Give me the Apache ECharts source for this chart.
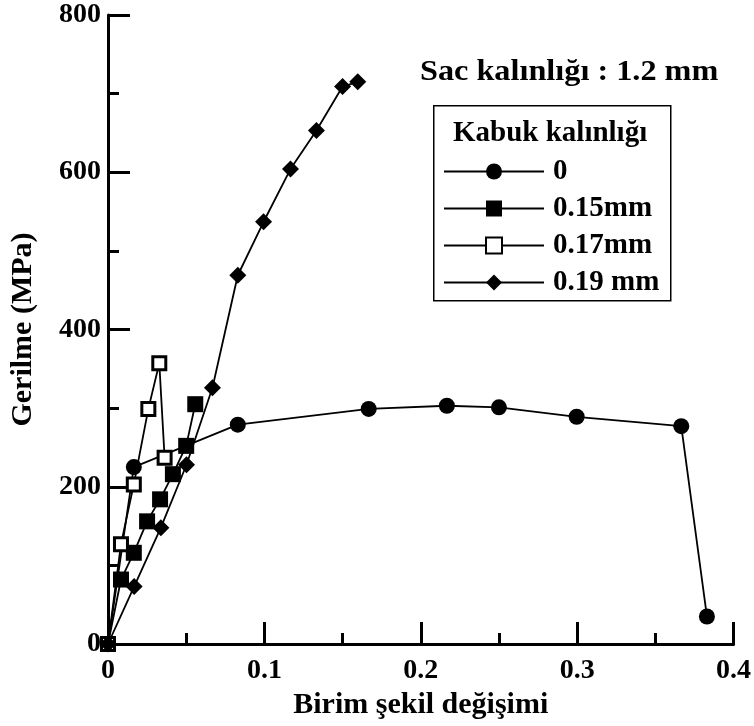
<!DOCTYPE html>
<html>
<head>
<meta charset="utf-8">
<script src="https://cdn.jsdelivr.net/npm/echarts@6/dist/echarts.min.js"></script>
<style>
  html, body { margin: 0; padding: 0; background: #fff; }
  #chart { width: 754px; height: 726px; }
</style>
</head>
<body>
<div id="chart"></div>
<script>
// Stress–strain curves for 1.2 mm sheet with different shell thicknesses
const seriesNames = ['0', '0.15mm', '0.17mm', '0.19 mm'];

const strain0 = [0, 0.0165, 0.083, 0.1667, 0.2167, 0.25, 0.2997, 0.3666, 0.383];
const stress0 = [0, 225, 279, 299, 303, 301, 289, 277, 35];

const strain015 = [0, 0.0083, 0.0165, 0.025, 0.0333, 0.0415, 0.05, 0.0558];
const stress015 = [0, 82, 116, 156, 184, 216, 252, 305];

const strain017 = [0, 0.0083, 0.0165, 0.0258, 0.0328, 0.0362];
const stress017 = [0, 127, 203, 299, 357, 237];

const strain019 = [0, 0.0167, 0.0338, 0.0502, 0.0668, 0.083, 0.0995, 0.1167, 0.1333, 0.150, 0.1597];
const stress019 = [0, 73, 148, 228, 326, 469, 537, 604, 653, 709, 715];

const xTicks = [0, 0.1, 0.2, 0.3, 0.4];
const yTicks = [0, 200, 400, 600, 800];

const FONT = '"Liberation Serif", "Times New Roman", serif';

function pairs(xs, ys) {
  return xs.map((x, i) => [x, ys[i]]);
}

const chart = echarts.init(document.getElementById('chart'), null, { renderer: 'canvas' });

const axisCommon = {
  axisLine: { show: true, lineStyle: { color: '#000', width: 3 } },
  axisTick: { show: true, inside: true, length: 22, lineStyle: { color: '#000', width: 3 } },
  minorTick: { show: true, splitNumber: 2, length: 11, lineStyle: { color: '#000', width: 3 } },
  splitLine: { show: false },
  axisLabel: { color: '#000', fontFamily: FONT, fontWeight: 'bold', fontSize: 28 },
  nameTextStyle: { color: '#000', fontFamily: FONT, fontWeight: 'bold', fontSize: 30 }
};

const lineBase = {
  type: 'line',
  color: '#000',
  lineStyle: { color: '#000', width: 1.8 },
  emphasis: { disabled: true },
  z: 3
};

chart.setOption({
  animation: false,
  backgroundColor: '#fff',
  grid: { left: 107, right: 20, top: 15, bottom: 82, containLabel: false },
  xAxis: Object.assign({}, axisCommon, {
    type: 'value',
    min: xTicks[0],
    max: xTicks[xTicks.length - 1],
    interval: xTicks[1] - xTicks[0],
    name: 'Birim şekil değişimi',
    nameLocation: 'middle',
    nameGap: 37,
    axisLabel: Object.assign({}, axisCommon.axisLabel, {
      margin: 13,
      formatter: v => String(Math.round(v * 10) / 10)
    })
  }),
  yAxis: Object.assign({}, axisCommon, {
    type: 'value',
    min: yTicks[0],
    max: yTicks[yTicks.length - 1],
    interval: yTicks[1] - yTicks[0],
    name: 'Gerilme (MPa)',
    nameLocation: 'middle',
    nameGap: 70,
    axisLabel: Object.assign({}, axisCommon.axisLabel, { margin: 7 })
  }),
  legend: {
    orient: 'vertical',
    left: 438,
    top: 150,
    itemWidth: 100,
    itemHeight: 20,
    itemGap: 4,
    data: seriesNames,
    textStyle: { color: '#000', fontFamily: FONT, fontWeight: 'bold', fontSize: 29, lineHeight: 33, padding: [0, 0, 0, 4] }
  },
  graphic: [
    {
      type: 'rect',
      left: 433, top: 105,
      shape: { width: 237, height: 195 },
      style: { fill: '#fff', stroke: '#000', lineWidth: 1.5 },
      z: 1
    },
    {
      type: 'text',
      left: 453, top: 119,
      style: { text: 'Kabuk kalınlığı', fill: '#000', font: 'bold 29px ' + FONT },
      z: 5
    },
    {
      type: 'text',
      left: 420, top: 57,
      scaleX: 1.075,
      style: { text: 'Sac kalınlığı : 1.2 mm', fill: '#000', font: 'bold 30px ' + FONT },
      z: 5
    }
  ],
  series: [
    Object.assign({}, lineBase, {
      name: seriesNames[0],
      symbol: 'circle',
      symbolSize: 16,
      itemStyle: { color: '#000' },
      data: pairs(strain0, stress0)
    }),
    Object.assign({}, lineBase, {
      name: seriesNames[1],
      symbol: 'rect',
      symbolSize: 16,
      itemStyle: { color: '#000' },
      data: pairs(strain015, stress015)
    }),
    Object.assign({}, lineBase, {
      name: seriesNames[2],
      symbol: 'rect',
      symbolSize: 13,
      itemStyle: { color: '#fff', borderColor: '#000', borderWidth: 3 },
      data: pairs(strain017, stress017)
    }),
    Object.assign({}, lineBase, {
      name: seriesNames[3],
      symbol: 'diamond',
      symbolSize: 17,
      itemStyle: { color: '#000' },
      data: pairs(strain019, stress019)
    })
  ]
});
</script>
</body>
</html>
